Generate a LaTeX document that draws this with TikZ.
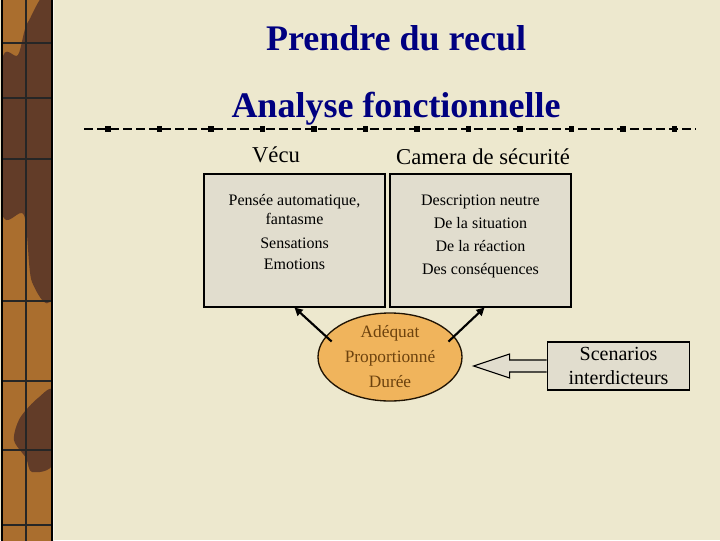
\documentclass[tikz,border=0pt]{standalone}
\usepackage{fontspec}
\setmainfont{Liberation Serif}
\usetikzlibrary{arrows.meta, positioning, shapes.geometric, calc}
\definecolor{parch}{RGB}{237,232,206}
\definecolor{navy}{RGB}{0,0,128}
\definecolor{boxf}{RGB}{225,221,206}
\definecolor{ora}{RGB}{240,180,92}
\definecolor{brn}{RGB}{108,66,14}
\definecolor{strp}{RGB}{170,110,46}
\definecolor{strpd}{RGB}{98,60,40}
\tikzset{
  ttl/.style={font=\fontsize{27}{30}\selectfont\bfseries, text=navy, inner sep=0pt, anchor=base},
  hd/.style={font=\fontsize{17}{20}\selectfont, inner sep=0pt, anchor=base},
  % bloc de texte (gris clair)
  bx/.style={rectangle, draw=black, line width=0.8pt, fill=boxf,
             minimum width=135.75pt, minimum height=99.75pt, inner sep=0pt},
  btxt/.style={font=\fontsize{12}{17.25}\selectfont, align=center, inner sep=0pt, anchor=north},
  % ellipse du resultat
  res/.style={ellipse, draw=black!70!brn, line width=1pt, fill=ora, text=brn,
              minimum width=108pt, minimum height=66pt, inner sep=0pt,
              font=\fontsize{13}{18.75}\selectfont, align=center},
  scn/.style={rectangle, draw=black, line width=0.8pt, fill=boxf,
              minimum width=107pt, minimum height=36pt, inner sep=0pt,
              font=\fontsize{15}{18}\selectfont, align=center},
  ptr/.style={-{Triangle[length=6pt,width=6pt]}, line width=1.6pt, shorten <=-6pt},
  blk/.style={draw=black, line width=0.8pt, fill=boxf, line join=miter}
}

\begin{document}
\begin{tikzpicture}[x=0.75pt, y=-0.75pt]
  \useasboundingbox (0,0) rectangle (720,540);
  \fill[parch] (0,0) rectangle (720,540);

  % --- bande de gauche ---
  \begin{scope}
    \clip (2,-2) rectangle (52,542);
    \fill[strp] (2,-2) rectangle (52,542);
    \fill[strpd] plot[smooth cycle] coordinates
      {(2,62) (18,55) (28,22) (52,8) (54,285) (32,282) (24,215) (2,212)};
    \fill[strpd] plot[smooth cycle] coordinates
      {(54,392) (38,398) (20,418) (14,440) (26,458) (32,472) (54,462)};
  \end{scope}
  \draw[black, line width=1.2pt] (2,-2) rectangle (52,542);
  \draw[white!60!parch, line width=1pt] (53.8,-2) -- (53.8,542);
  \draw[black!85, line width=0.9pt] (26,-2) -- (26,542);
  \foreach \yy in {43,98,159,301,381,450,525}
    \draw[black!85, line width=0.9pt] (3,\yy) -- (51,\yy);

  % --- titres ---
  \node[ttl] (ttl) at (396,50) {Prendre du recul};
  \node[ttl] (sub) at (396,117) {Analyse fonctionnelle};

  % --- filet pointille ---
  \draw[line width=1pt, dash pattern=on 6.75pt off 3pt] (84,129) -- (696,129);
  \foreach \i in {0,...,11}
    \fill ({108+51.5*\i-2.7},126.3) rectangle ++(5.4,5.4);

  % --- deux blocs ---
  \node[hd] (vec) at (276,162) {Vécu};
  \node[hd] (cam) at (483,164) {Camera de sécurité};
  \node[bx] (vbox) at (294.5,240.5) {};
  \node[bx] (cbox) at (480.5,240.5) {};
  \node[btxt, below=15.5pt of vbox.north] (vtxt)
    {Pensée automatique,\\[-3pt] fantasme\\[0.75pt] Sensations\\[-1.5pt] Emotions};
  \node[btxt, below=15.5pt of cbox.north] (ctxt)
    {Description neutre\\ De la situation\\ De la réaction\\ Des conséquences};

  % --- reaction ---
  \node[res] (ell) at (390,357) {Adéquat\\ Proportionné\\ Durée};
  \draw[ptr] (ell.162) -- (vbox.south);
  \draw[ptr] (ell.18) -- ($(cbox.south)+(4,0)$);

  % --- scenarios + fleche bloc ---
  \node[scn] (scen) at (618.5,366) {Scenarios\\ interdicteurs};
  \filldraw[blk] ($(scen.west)+(0,-6)$) -- ++(-37,0) -- ++(0,-6) -- ++(-36,12)
    -- ++(36,12) -- ++(0,-6) -- ++(37,0);
\end{tikzpicture}
\end{document}
